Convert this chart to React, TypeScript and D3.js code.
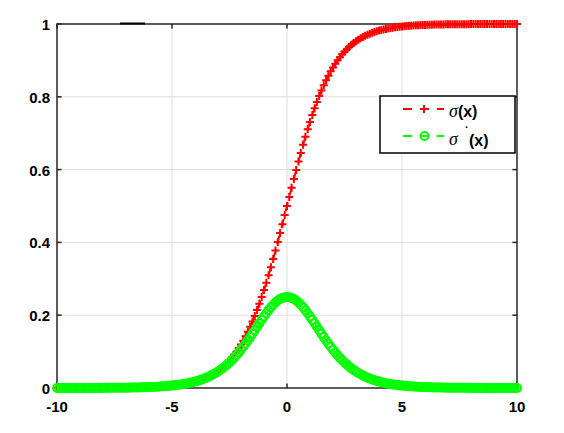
import React from "react";
import * as d3 from "d3";

// x grid (-10 : 0.1 : 10)
const xs: number[] = [
  -10, -9.9, -9.8, -9.7, -9.6, -9.5, -9.4, -9.3, -9.2, -9.1,
  -9, -8.9, -8.8, -8.7, -8.6, -8.5, -8.4, -8.3, -8.2, -8.1,
  -8, -7.9, -7.8, -7.7, -7.6, -7.5, -7.4, -7.3, -7.2, -7.1,
  -7, -6.9, -6.8, -6.7, -6.6, -6.5, -6.4, -6.3, -6.2, -6.1,
  -6, -5.9, -5.8, -5.7, -5.6, -5.5, -5.4, -5.3, -5.2, -5.1,
  -5, -4.9, -4.8, -4.7, -4.6, -4.5, -4.4, -4.3, -4.2, -4.1,
  -4, -3.9, -3.8, -3.7, -3.6, -3.5, -3.4, -3.3, -3.2, -3.1,
  -3, -2.9, -2.8, -2.7, -2.6, -2.5, -2.4, -2.3, -2.2, -2.1,
  -2, -1.9, -1.8, -1.7, -1.6, -1.5, -1.4, -1.3, -1.2, -1.1,
  -1, -0.9, -0.8, -0.7, -0.6, -0.5, -0.4, -0.3, -0.2, -0.1,
  0, 0.1, 0.2, 0.3, 0.4, 0.5, 0.6, 0.7, 0.8, 0.9,
  1, 1.1, 1.2, 1.3, 1.4, 1.5, 1.6, 1.7, 1.8, 1.9,
  2, 2.1, 2.2, 2.3, 2.4, 2.5, 2.6, 2.7, 2.8, 2.9,
  3, 3.1, 3.2, 3.3, 3.4, 3.5, 3.6, 3.7, 3.8, 3.9,
  4, 4.1, 4.2, 4.3, 4.4, 4.5, 4.6, 4.7, 4.8, 4.9,
  5, 5.1, 5.2, 5.3, 5.4, 5.5, 5.6, 5.7, 5.8, 5.9,
  6, 6.1, 6.2, 6.3, 6.4, 6.5, 6.6, 6.7, 6.8, 6.9,
  7, 7.1, 7.2, 7.3, 7.4, 7.5, 7.6, 7.7, 7.8, 7.9,
  8, 8.1, 8.2, 8.3, 8.4, 8.5, 8.6, 8.7, 8.8, 8.9,
  9, 9.1, 9.2, 9.3, 9.4, 9.5, 9.6, 9.7, 9.8, 9.9,
  10,
];

// sigma(x)
const sigmaValues: number[] = [
  0.0000, 0.0001, 0.0001, 0.0001, 0.0001, 0.0001, 0.0001, 0.0001, 0.0001, 0.0001,
  0.0001, 0.0001, 0.0001, 0.0002, 0.0002, 0.0002, 0.0002, 0.0002, 0.0003, 0.0003,
  0.0003, 0.0004, 0.0004, 0.0005, 0.0005, 0.0006, 0.0006, 0.0007, 0.0007, 0.0008,
  0.0009, 0.0010, 0.0011, 0.0012, 0.0014, 0.0015, 0.0017, 0.0018, 0.0020, 0.0022,
  0.0025, 0.0027, 0.0030, 0.0033, 0.0037, 0.0041, 0.0045, 0.0050, 0.0055, 0.0061,
  0.0067, 0.0074, 0.0082, 0.0090, 0.0100, 0.0110, 0.0121, 0.0134, 0.0148, 0.0163,
  0.0180, 0.0198, 0.0219, 0.0241, 0.0266, 0.0293, 0.0323, 0.0356, 0.0392, 0.0431,
  0.0474, 0.0522, 0.0573, 0.0630, 0.0691, 0.0759, 0.0832, 0.0911, 0.0998, 0.1091,
  0.1192, 0.1301, 0.1419, 0.1545, 0.1680, 0.1824, 0.1978, 0.2142, 0.2315, 0.2497,
  0.2689, 0.2891, 0.3100, 0.3318, 0.3543, 0.3775, 0.4013, 0.4256, 0.4502, 0.4750,
  0.5000, 0.5250, 0.5498, 0.5744, 0.5987, 0.6225, 0.6457, 0.6682, 0.6900, 0.7109,
  0.7311, 0.7503, 0.7685, 0.7858, 0.8022, 0.8176, 0.8320, 0.8455, 0.8581, 0.8699,
  0.8808, 0.8909, 0.9002, 0.9089, 0.9168, 0.9241, 0.9309, 0.9370, 0.9427, 0.9478,
  0.9526, 0.9569, 0.9608, 0.9644, 0.9677, 0.9707, 0.9734, 0.9759, 0.9781, 0.9802,
  0.9820, 0.9837, 0.9852, 0.9866, 0.9879, 0.9890, 0.9900, 0.9910, 0.9918, 0.9926,
  0.9933, 0.9939, 0.9945, 0.9950, 0.9955, 0.9959, 0.9963, 0.9967, 0.9970, 0.9973,
  0.9975, 0.9978, 0.9980, 0.9982, 0.9983, 0.9985, 0.9986, 0.9988, 0.9989, 0.9990,
  0.9991, 0.9992, 0.9993, 0.9993, 0.9994, 0.9994, 0.9995, 0.9995, 0.9996, 0.9996,
  0.9997, 0.9997, 0.9997, 0.9998, 0.9998, 0.9998, 0.9998, 0.9998, 0.9999, 0.9999,
  0.9999, 0.9999, 0.9999, 0.9999, 0.9999, 0.9999, 0.9999, 0.9999, 0.9999, 0.9999,
  1.0000,
];

// sigma'(x)
const sigmaPrimeValues: number[] = [
  0.0000, 0.0001, 0.0001, 0.0001, 0.0001, 0.0001, 0.0001, 0.0001, 0.0001, 0.0001,
  0.0001, 0.0001, 0.0002, 0.0002, 0.0002, 0.0002, 0.0002, 0.0003, 0.0003, 0.0003,
  0.0003, 0.0004, 0.0004, 0.0005, 0.0005, 0.0006, 0.0006, 0.0007, 0.0007, 0.0008,
  0.0009, 0.0010, 0.0011, 0.0012, 0.0014, 0.0015, 0.0017, 0.0018, 0.0020, 0.0022,
  0.0025, 0.0027, 0.0030, 0.0033, 0.0037, 0.0041, 0.0045, 0.0050, 0.0055, 0.0061,
  0.0066, 0.0073, 0.0081, 0.0089, 0.0099, 0.0109, 0.0120, 0.0132, 0.0146, 0.0160,
  0.0177, 0.0195, 0.0214, 0.0236, 0.0259, 0.0285, 0.0313, 0.0343, 0.0376, 0.0413,
  0.0452, 0.0494, 0.0540, 0.0590, 0.0644, 0.0701, 0.0763, 0.0828, 0.0898, 0.0972,
  0.1050, 0.1132, 0.1217, 0.1306, 0.1398, 0.1491, 0.1587, 0.1683, 0.1779, 0.1874,
  0.1966, 0.2055, 0.2139, 0.2217, 0.2288, 0.2350, 0.2403, 0.2445, 0.2475, 0.2494,
  0.2500, 0.2494, 0.2475, 0.2445, 0.2403, 0.2350, 0.2288, 0.2217, 0.2139, 0.2055,
  0.1966, 0.1874, 0.1779, 0.1683, 0.1587, 0.1491, 0.1398, 0.1306, 0.1217, 0.1132,
  0.1050, 0.0972, 0.0898, 0.0828, 0.0763, 0.0701, 0.0644, 0.0590, 0.0540, 0.0494,
  0.0452, 0.0413, 0.0376, 0.0343, 0.0313, 0.0285, 0.0259, 0.0236, 0.0214, 0.0195,
  0.0177, 0.0160, 0.0146, 0.0132, 0.0120, 0.0109, 0.0099, 0.0089, 0.0081, 0.0073,
  0.0066, 0.0061, 0.0055, 0.0050, 0.0045, 0.0041, 0.0037, 0.0033, 0.0030, 0.0027,
  0.0025, 0.0022, 0.0020, 0.0018, 0.0017, 0.0015, 0.0014, 0.0012, 0.0011, 0.0010,
  0.0009, 0.0008, 0.0007, 0.0007, 0.0006, 0.0006, 0.0005, 0.0005, 0.0004, 0.0004,
  0.0003, 0.0003, 0.0003, 0.0002, 0.0002, 0.0002, 0.0002, 0.0002, 0.0001, 0.0001,
  0.0001, 0.0001, 0.0001, 0.0001, 0.0001, 0.0001, 0.0001, 0.0001, 0.0001, 0.0001,
  0.0000,
];

const xTicks: number[] = [-10, -5, 0, 5, 10];
const xTickLabels: string[] = ["-10", "-5", "0", "5", "10"];
const yTicks: number[] = [0, 0.2, 0.4, 0.6, 0.8, 1];
const yTickLabels: string[] = ["0", "0.2", "0.4", "0.6", "0.8", "1"];

const W = 564;
const H = 433;
const L = 57, R = 517, T = 24, B = 388;
const RED = "#ff0000";
const GREEN = "#00ff00";
const AX = "#262626";
const GRID = "#dedede";
const TICK_FONT = "'Liberation Sans', Arial, sans-serif";

export default function App() {
  const x = d3.scaleLinear().domain([-10, 10]).range([L, R]);
  const y = d3.scaleLinear().domain([0, 1]).range([B, T]);

  const sigPts = xs.map((v, i) => [v, sigmaValues[i]] as [number, number]);
  const dPts = xs.map((v, i) => [v, sigmaPrimeValues[i]] as [number, number]);
  const line = d3
    .line<[number, number]>()
    .x((d) => x(d[0]))
    .y((d) => y(d[1]));

  const tickLen = 4.6;
  const plus = "M-4,0H4M0,-4V4";

  return (
    <svg
      width={W}
      height={H}
      style={{ position: "absolute", left: 0, top: 0, background: "#fff" }}
    >
      {/* grid */}
      <g stroke={GRID} strokeWidth={1}>
        {xTicks
          .filter((t) => t > -10 && t < 10)
          .map((t) => (
            <line key={"gx" + t} x1={x(t)} x2={x(t)} y1={T} y2={B} />
          ))}
        {yTicks
          .filter((t) => t > 0 && t < 1)
          .map((t) => (
            <line key={"gy" + t} x1={L} x2={R} y1={y(t)} y2={y(t)} />
          ))}
      </g>

      {/* box and ticks */}
      <g stroke={AX} strokeWidth={1.5} fill="none">
        <rect x={L} y={T} width={R - L} height={B - T} />
        {xTicks.map((t) => (
          <g key={"tx" + t}>
            <line x1={x(t)} x2={x(t)} y1={B} y2={B - tickLen} />
            <line x1={x(t)} x2={x(t)} y1={T} y2={T + tickLen} />
          </g>
        ))}
        {yTicks.map((t) => (
          <g key={"ty" + t}>
            <line x1={L} x2={L + tickLen} y1={y(t)} y2={y(t)} />
            <line x1={R} x2={R - tickLen} y1={y(t)} y2={y(t)} />
          </g>
        ))}
      </g>
      <line x1={120} x2={145} y1={23.5} y2={23.5} stroke="#000" strokeWidth={2} />

      {/* tick labels */}
      <g fontFamily={TICK_FONT} fontWeight="bold" fontSize={15} fill="#000">
        {xTicks.map((t, i) => (
          <text key={"lx" + t} x={x(t)} y={B + 24} textAnchor="middle">
            {xTickLabels[i]}
          </text>
        ))}
        {yTicks.map((t, i) => (
          <text key={"ly" + t} x={L - 7} y={y(t) + 6} textAnchor="end">
            {yTickLabels[i]}
          </text>
        ))}
      </g>

      {/* sigma series */}
      <path d={line(sigPts) || ""} fill="none" stroke={RED} strokeWidth={2} strokeDasharray="9,8" />
      <g stroke={RED} strokeWidth={2} fill="none">
        {sigPts.map((p, i) => (
          <path key={"p" + i} d={plus} transform={`translate(${x(p[0])},${y(p[1])})`} />
        ))}
      </g>

      {/* derivative series */}
      <path d={line(dPts) || ""} fill="none" stroke={GREEN} strokeWidth={2} strokeDasharray="9,8" />
      <g stroke={GREEN} strokeWidth={2} fill="none">
        {dPts.map((p, i) => (
          <circle key={"c" + i} cx={x(p[0])} cy={y(p[1])} r={4} />
        ))}
      </g>

      {/* legend */}
      <rect x={380} y={96} width={135} height={57} fill="#fff" stroke="#000" strokeWidth={1.5} />
      <line x1={403} x2={444} y1={109} y2={109} stroke={RED} strokeWidth={2} strokeDasharray="9,8" />
      <path d={plus} transform="translate(424,109)" stroke={RED} strokeWidth={2} fill="none" />
      <text y={117} fill="#000">
        <tspan x={449} fontFamily="'Liberation Serif', serif" fontStyle="italic" fontSize={18}>σ</tspan>
        <tspan fontFamily={TICK_FONT} fontWeight="bold" fontSize={16}>(x)</tspan>
      </text>
      <line x1={403} x2={444} y1={136} y2={136} stroke={GREEN} strokeWidth={2} strokeDasharray="9,8" />
      <circle cx={424.5} cy={136} r={4} stroke={GREEN} strokeWidth={2} fill="none" />
      <text y={145} fill="#000">
        <tspan x={449} fontFamily="'Liberation Serif', serif" fontStyle="italic" fontSize={18}>σ</tspan>
      </text>
      <text x={465} y={131} fill="#000" fontFamily={TICK_FONT} fontWeight="bold" fontSize={11}>·</text>
      <text x={469} y={146} fill="#000" fontFamily={TICK_FONT} fontWeight="bold" fontSize={16}>(x)</text>
    </svg>
  );
}
